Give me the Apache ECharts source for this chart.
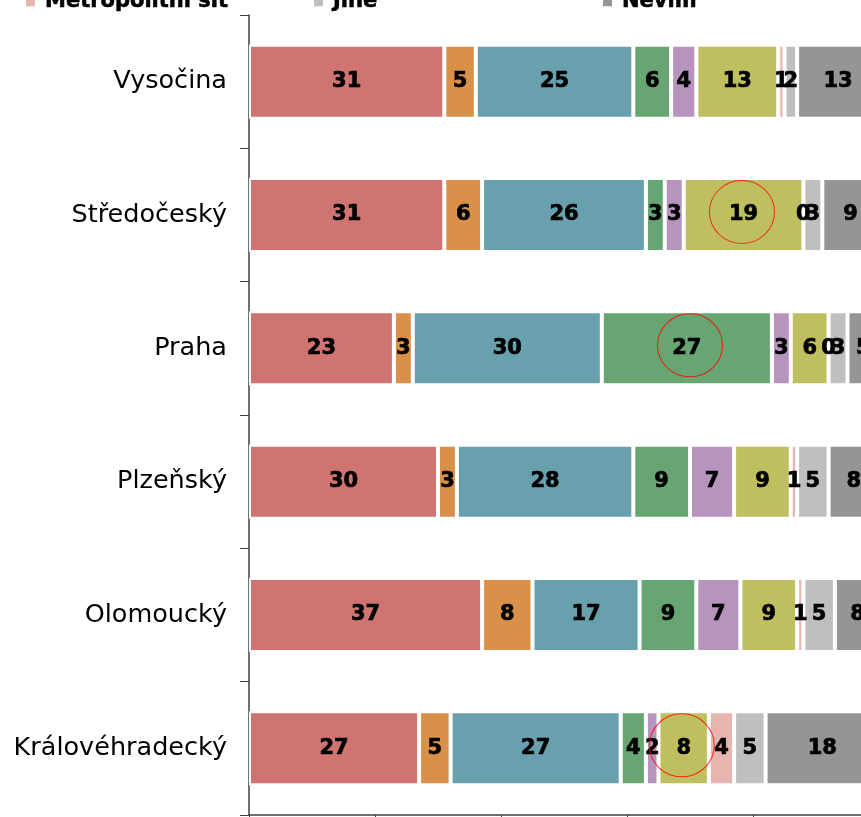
<!DOCTYPE html>
<html><head><meta charset="utf-8">
<script src="https://cdn.jsdelivr.net/npm/echarts@6/dist/echarts.min.js"></script>
<style>html,body{margin:0;padding:0;background:#fff;overflow:hidden;width:861px;height:817px}#c{width:880px;height:817px}</style>
</head><body><div id="c"></div>
<script>
const regions = ['Vysočina','Středočeský','Praha','Plzeňský','Olomoucký','Královéhradecký'];
const seriesNames = ['Kabelová televize','Satelit','ADSL','Wi-Fi','Mobilní připojení','Pevná linka','Metropolitní síť','Jiné','Nevím'];
const s1 = [31,31,23,30,37,27];
const s2 = [5,6,3,3,8,5];
const s3 = [25,26,30,28,17,27];
const s4 = [6,3,27,9,9,4];
const s5 = [4,3,3,7,7,2];
const s6 = [13,19,6,9,9,8];
const metropolitni = [1,0,0,1,1,4];
const jine = [2,3,3,5,5,5];
const nevim = [13,9,5,8,8,18];
const seriesValues = [s1,s2,s3,s4,s5,s6,metropolitni,jine,nevim];
const colors = ['#CF7471','#D99048','#68A0AE','#67A673','#B794BD','#C0BF60','#E6B5B0','#BFBFBF','#959595'];
const legendItems = ['Metropolitní síť','Jiné','Nevím'];
const circleMarks = [[78.25,'Středočeský'],[70.0,'Praha'],[68.7,'Královéhradecký']];

const font = 'DejaVu Sans, Verdana, sans-serif';
const chart = echarts.init(document.getElementById('c'));
const legendLeft = [24, 312, 601];
const series = seriesValues.map((vals, i) => ({
  name: seriesNames[i],
  type: 'bar',
  stack: 'total',
  barWidth: 74,
  data: vals,
  itemStyle: {color: colors[i], borderColor: '#fff', borderWidth: 2},
  label: {show: true, position: 'inside', color: '#000', fontWeight: 'bold', fontSize: 21, fontFamily: font,
    textBorderColor: '#000', textBorderWidth: 0.7, formatter: p => String(p.value)},
  emphasis: {disabled: true}
}));
series.push({
  name: 'annotation',
  type: 'scatter',
  data: circleMarks,
  symbol: 'circle',
  symbolSize: [65, 63],
  symbolOffset: [0, -3],
  z: 10,
  itemStyle: {color: 'rgba(0,0,0,0)', borderColor: '#FF0000', borderWidth: 1},
  silent: true
});
chart.setOption({
  animation: false,
  color: colors,
  legend: legendItems.map((n, i) => ({
    data: [n],
    left: legendLeft[i],
    top: -9,
    padding: 0,
    itemWidth: 11,
    itemHeight: 11,
    icon: 'rect',
    selectedMode: false,
    textStyle: {fontFamily: font, fontWeight: 'bold', fontSize: 21, color: '#000', padding: [0,0,0,4],
      textBorderColor: '#000', textBorderWidth: 0.6}
  })),
  grid: {left: 249, top: 15, bottom: 2, right: 1, containLabel: false},
  xAxis: {
    type: 'value', min: 0, max: 100, interval: 20,
    axisLine: {show: true, lineStyle: {color: '#404040', width: 1.5}},
    axisTick: {show: true, length: 5, lineStyle: {color: '#404040'}},
    axisLabel: {show: false},
    splitLine: {show: false}
  },
  yAxis: {
    type: 'category', data: regions, inverse: true,
    axisLine: {show: true, lineStyle: {color: '#404040', width: 1.5}},
    axisTick: {show: true, length: 9, alignWithLabel: false, lineStyle: {color: '#404040'}},
    axisLabel: {fontFamily: font, fontSize: 25.5, color: '#000', margin: 22}
  },
  series: series
});
</script></body></html>
